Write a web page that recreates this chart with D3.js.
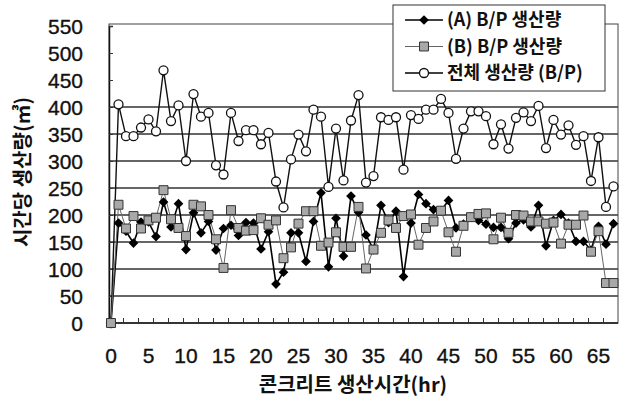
<!DOCTYPE html>
<html>
<head>
<meta charset="utf-8">
<script src="https://cdn.jsdelivr.net/npm/d3@7"></script>
<style>
  body { margin: 0; background: #fff; }
  svg { display: block; }
  text { font-family: "Liberation Sans", Arial, "Noto Sans CJK KR", sans-serif; fill: #111; }
  .kr { font-family: "Noto Sans CJK KR", sans-serif; font-weight: 700; }
  .num { stroke: #111; stroke-width: 0.35px; }
</style>
</head>
<body>
<div id="chart"></div>
<script>
// hours 0..67 (one reading per hour)
const hours = d3.range(0, 68);

// (A) B/P output per hour
const seriesA = [0, 185, 170, 148, 187, 187, 160, 224, 178, 221,
  136, 204, 167, 188, 135, 175, 181, 162, 186, 185,
  137, 169, 72, 94, 167, 167, 114, 188, 241, 104,
  194, 124, 235, 205, 163, 136, 218, 186, 207, 86,
  185, 238, 221, 210, 208, 227, 176, 183, 196, 190,
  183, 177, 177, 156, 185, 191, 178, 218, 143, 190,
  201, 185, 151, 151, 135, 179, 146, 184];

// (B) B/P output per hour
const seriesB = [0, 219, 175, 198, 175, 190, 195, 246, 192, 176,
  161, 219, 216, 200, 155, 102, 209, 176, 171, 172,
  194, 182, 190, 120, 140, 184, 207, 207, 143, 149,
  168, 141, 141, 215, 101, 136, 167, 190, 176, 198,
  201, 145, 176, 188, 208, 168, 132, 180, 196, 202,
  203, 155, 195, 167, 200, 199, 188, 188, 184, 186,
  147, 182, 182, 199, 132, 170, 74, 74];

// total output (B/P)
const seriesTotal = [0, 405, 346, 346, 362, 377, 355, 468, 374, 403,
  300, 424, 382, 389, 292, 275, 389, 337, 357, 357,
  331, 352, 262, 214, 303, 349, 318, 395, 382, 252,
  360, 264, 375, 422, 260, 272, 381, 376, 381, 284,
  385, 378, 395, 395, 415, 389, 304, 360, 392, 392,
  383, 331, 368, 323, 380, 390, 374, 402, 324, 376,
  349, 366, 330, 346, 263, 344, 215, 253];

const xTicks = [0, 5, 10, 15, 20, 25, 30, 35, 40, 45, 50, 55, 60, 65];
const yTicks = [0, 50, 100, 150, 200, 250, 300, 350, 400, 450, 500, 550];
const gridValues = [50, 100, 150, 200, 250, 300, 350, 400];
const legendLabels = ['(A) B/P 생산량', '(B) B/P 생산량', '전체 생산량 (B/P)'];

const width = 627, height = 408;
const plot = { left: 109, right: 618, top: 24, bottom: 323 };

const svg = d3.select('#chart').append('svg')
  .attr('width', width)
  .attr('height', height);

const x = d3.scaleLinear().domain([0, 67]).range([111, 613.5]);
const y = d3.scaleLinear().domain([0, 550]).range([plot.bottom, 26]);

// gridlines
svg.append('g')
  .selectAll('line')
  .data(gridValues)
  .enter().append('line')
  .attr('x1', plot.left).attr('x2', plot.right)
  .attr('y1', d => y(d)).attr('y2', d => y(d))
  .attr('stroke', '#333')
  .attr('stroke-width', 1.3);

// frame
svg.append('rect')
  .attr('x', plot.left).attr('y', plot.top)
  .attr('width', plot.right - plot.left)
  .attr('height', plot.bottom - plot.top)
  .attr('fill', 'none')
  .attr('stroke', '#444')
  .attr('stroke-width', 1);

// left axis: inner ticks, labels on the left
const yAxis = svg.append('g')
  .attr('transform', `translate(${plot.left},0)`)
  .call(d3.axisRight(y).tickValues(yTicks).tickSize(4).tickFormat(''));
yAxis.select('.domain').attr('stroke', '#111').attr('stroke-width', 1.5);
yAxis.selectAll('.tick line').attr('stroke', '#333');

svg.append('g')
  .selectAll('text')
  .data(yTicks)
  .enter().append('text')
  .attr('class', 'num')
  .attr('x', 83)
  .attr('y', d => y(d))
  .attr('dy', '0.36em')
  .attr('text-anchor', 'end')
  .attr('font-size', '21px')
  .text(d => d);

// bottom axis: inner minor ticks every 2 hours
const minorTicks = d3.range(1.6, 67.6, 2);
const xAxis = svg.append('g')
  .attr('transform', `translate(0,${plot.bottom})`)
  .call(d3.axisTop(x).tickValues(minorTicks).tickSize(5).tickFormat(''));
xAxis.select('.domain').attr('stroke', '#111').attr('stroke-width', 1.5)
  .attr('d', `M${plot.left},0H${plot.right}`);
xAxis.selectAll('.tick line').attr('stroke', '#333');

svg.append('g')
  .selectAll('text')
  .data(xTicks)
  .enter().append('text')
  .attr('class', 'num')
  .attr('x', d => x(d))
  .attr('y', 355)
  .attr('dy', '0.36em')
  .attr('text-anchor', 'middle')
  .attr('font-size', '21px')
  .text(d => d);

// axis titles
svg.append('text')
  .attr('class', 'kr')
  .attr('transform', 'translate(23,172) rotate(-90)')
  .attr('text-anchor', 'middle')
  .attr('dy', '0.36em')
  .attr('font-size', '20px')
  .text('시간당 생산량(㎥)');

svg.append('text')
  .attr('class', 'kr')
  .attr('x', 353).attr('y', 385)
  .attr('text-anchor', 'middle')
  .attr('dy', '0.36em')
  .attr('font-size', '20px')
  .text('콘크리트 생산시간(hr)');

const line = d3.line().x((d, i) => x(hours[i])).y(d => y(d));

// series lines
svg.append('path').datum(seriesTotal)
  .attr('d', line).attr('fill', 'none')
  .attr('stroke', '#111').attr('stroke-width', 1.4);
svg.append('path').datum(seriesA)
  .attr('d', line).attr('fill', 'none')
  .attr('stroke', '#000').attr('stroke-width', 1.6);
svg.append('path').datum(seriesB)
  .attr('d', line).attr('fill', 'none')
  .attr('stroke', '#666').attr('stroke-width', 1);

const diamond = d3.symbol().type(d3.symbolDiamond2).size(60);
const square = d3.symbol().type(d3.symbolSquare).size(80);

// markers
svg.append('g').selectAll('circle')
  .data(seriesTotal)
  .enter().append('circle')
  .attr('cx', (d, i) => x(hours[i]))
  .attr('cy', d => y(d))
  .attr('r', 4.5)
  .attr('fill', '#fff')
  .attr('stroke', '#111')
  .attr('stroke-width', 1.3);

svg.append('g').selectAll('path')
  .data(seriesA)
  .enter().append('path')
  .attr('d', diamond)
  .attr('transform', (d, i) => `translate(${x(hours[i])},${y(d)})`)
  .attr('fill', '#000');

svg.append('g').selectAll('path')
  .data(seriesB)
  .enter().append('path')
  .attr('d', square)
  .attr('transform', (d, i) => `translate(${x(hours[i])},${y(d)})`)
  .attr('fill', '#a8a8a8')
  .attr('stroke', '#333')
  .attr('stroke-width', 1);

// legend
const legend = svg.append('g').attr('transform', 'translate(393,5)');
legend.append('rect')
  .attr('width', 212).attr('height', 86)
  .attr('fill', '#fff')
  .attr('stroke', '#333')
  .attr('stroke-width', 1);

const rows = legend.selectAll('g.row')
  .data(legendLabels)
  .enter().append('g')
  .attr('class', 'row')
  .attr('transform', (d, i) => `translate(0,${15 + i * 26.5})`);

rows.append('line')
  .attr('x1', 12).attr('x2', 50)
  .attr('stroke', (d, i) => i === 1 ? '#666' : '#000')
  .attr('stroke-width', (d, i) => i === 1 ? 1 : 1.5);

rows.each(function (d, i) {
  const g = d3.select(this);
  if (i === 0) {
    g.append('path').attr('d', diamond).attr('transform', 'translate(31,0)').attr('fill', '#000');
  } else if (i === 1) {
    g.append('path').attr('d', square).attr('transform', 'translate(31,0)')
      .attr('fill', '#a8a8a8').attr('stroke', '#333');
  } else {
    g.append('circle').attr('cx', 31).attr('r', 4.5)
      .attr('fill', '#fff').attr('stroke', '#111').attr('stroke-width', 1.3);
  }
});

rows.append('text')
  .attr('class', 'kr')
  .attr('x', 54)
  .attr('dy', '0.36em')
  .attr('font-size', '18px')
  .text(d => d);
</script>
</body>
</html>
